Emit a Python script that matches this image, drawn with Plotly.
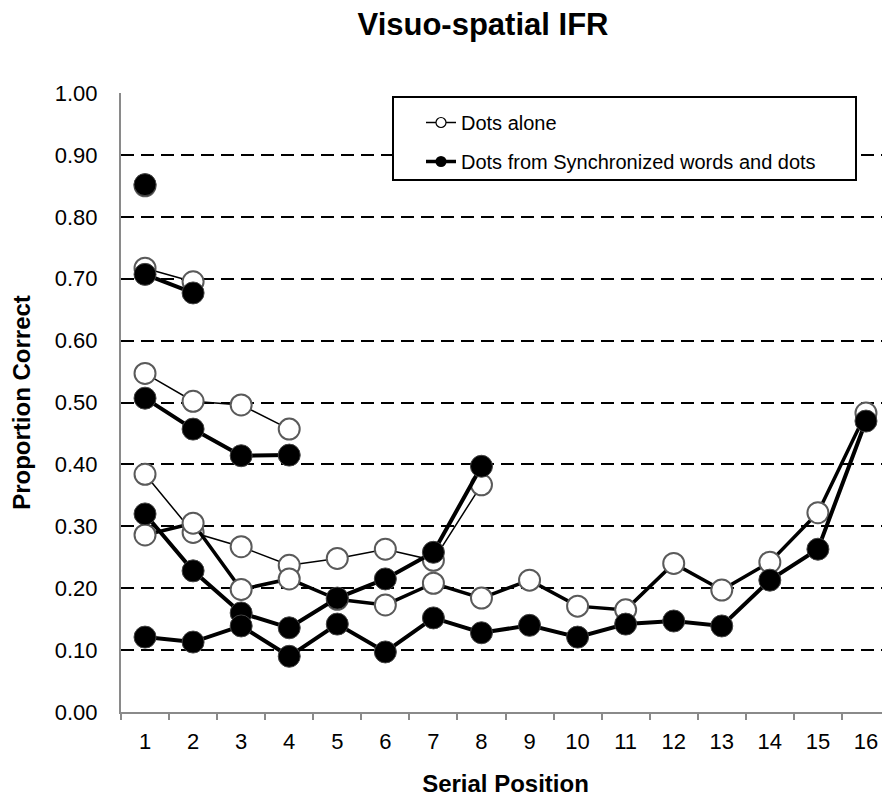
import plotly.graph_objects as go

positions = list(range(1, 17))
tick_labels = [str(p) for p in positions]

# Dots alone (open markers), one series per list length
alone_len1 = [0.850]
alone_len2 = [0.717, 0.695]
alone_len4 = [0.547, 0.502, 0.496, 0.457]
alone_len8 = [0.384, 0.290, 0.267, 0.237, 0.248, 0.263, 0.245, 0.367]
alone_len16 = [0.286, 0.305, 0.198, 0.215, 0.182, 0.173, 0.208, 0.184,
               0.213, 0.171, 0.165, 0.240, 0.197, 0.242, 0.322, 0.483]

# Dots from synchronized words and dots (filled markers)
sync_len1 = [0.852]
sync_len2 = [0.707, 0.677]
sync_len4 = [0.507, 0.457, 0.414, 0.415]
sync_len8 = [0.320, 0.228, 0.160, 0.136, 0.184, 0.215, 0.258, 0.397]
sync_len16 = [0.121, 0.113, 0.139, 0.090, 0.142, 0.097, 0.152, 0.128,
              0.140, 0.121, 0.142, 0.147, 0.139, 0.213, 0.263, 0.470]

FONT = "Liberation Sans, Arial, sans-serif"

fig = go.Figure()

alone_series = [alone_len1, alone_len2, alone_len4, alone_len8, alone_len16]
sync_series = [sync_len1, sync_len2, sync_len4, sync_len8, sync_len16]

for vals in alone_series:
    width = 3.5 if len(vals) == 16 else 1.5
    fig.add_trace(go.Scatter(
        x=positions[:len(vals)], y=vals, mode="lines+markers",
        line=dict(color="black", width=width),
        marker=dict(symbol="circle", size=21, color="white",
                    line=dict(color="#5a5a5a", width=2)),
        showlegend=False, hoverinfo="skip"))

for vals in sync_series:
    fig.add_trace(go.Scatter(
        x=positions[:len(vals)], y=vals, mode="lines+markers",
        line=dict(color="black", width=4),
        marker=dict(symbol="circle", size=22, color="black",
                    line=dict(color="#444444", width=1)),
        showlegend=False, hoverinfo="skip"))

# legend entries
fig.add_trace(go.Scatter(
    x=[None], y=[None], mode="lines+markers", name="Dots alone",
    line=dict(color="black", width=1.5),
    marker=dict(symbol="circle", size=10, color="white",
                line=dict(color="black", width=1.2)),
    legendgroup="a"))
fig.add_trace(go.Scatter(
    x=[None], y=[None], mode="lines+markers",
    name="Dots from Synchronized words and dots",
    line=dict(color="black", width=3.5),
    marker=dict(symbol="circle", size=11, color="black"),
    legendgroup="b"))

# page offset of the figure (body margin)
OFF = 8
W, H = 890 - OFF, 800 - OFF
L, R, T = 121 - OFF, 0, 93 - OFF
B = H - (712 - OFF)
pw, ph = W - L - R, H - T - B


def px_x(x):
    return (x - OFF - L) / pw


def px_y(y):
    return (H - B - (y - OFF)) / ph


fig.add_shape(type="rect", xref="paper", yref="paper",
              x0=px_x(393), x1=px_x(856), y0=px_y(180), y1=px_y(97),
              fillcolor="white", line=dict(color="black", width=2),
              layer="above")

fig.update_layout(
    width=W, height=H,
    margin=dict(l=L, r=R, t=T, b=B),
    paper_bgcolor="white", plot_bgcolor="white",
    font=dict(family=FONT, color="black"),
    title=dict(text="<b>Visuo-spatial IFR</b>", font=dict(size=31, family=FONT),
               x=(483 - OFF) / W, xref="container", xanchor="center",
               y=1 - (24 - OFF) / H, yref="container", yanchor="middle"),
    showlegend=True,
    legend=dict(x=px_x(421), y=px_y(103), xanchor="left", yanchor="top",
                bgcolor="rgba(0,0,0,0)", borderwidth=0,
                font=dict(size=20, family=FONT), tracegroupgap=10,
                itemwidth=30),
    xaxis=dict(range=[0.5, 16.5], tickmode="array", tickvals=positions,
               ticktext=tick_labels, ticks="", showgrid=False,
               showline=True, linecolor="#8a8a8a", linewidth=2,
               tickfont=dict(size=22, family=FONT), ticklabelstandoff=9,
               zeroline=False,
               minor=dict(tickmode="array",
                          tickvals=[p - 0.5 for p in positions] + [16.5],
                          ticks="outside", ticklen=6, tickcolor="#8a8a8a",
                          tickwidth=1.5, showgrid=False),
               title=dict(text="<b>Serial Position</b>",
                          font=dict(size=24, family=FONT), standoff=22)),
    yaxis=dict(range=[0, 1], tickmode="linear", tick0=0, dtick=0.1,
               tickformat=".2f", showgrid=True, gridcolor="black",
               gridwidth=1.5, griddash="13px,7px",
               showline=True, linecolor="#8a8a8a", linewidth=2,
               zeroline=False, ticks="",
               tickfont=dict(size=22, family=FONT), ticklabelstandoff=17,
               title=dict(text="<b>Proportion Correct</b>",
                          font=dict(size=24, family=FONT), standoff=18)),
)

fig.write_html("out.html")
